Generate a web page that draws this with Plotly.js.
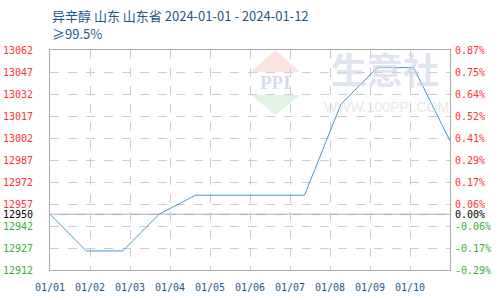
<!DOCTYPE html>
<html><head><meta charset="utf-8">
<script src="https://cdn.plot.ly/plotly-3.0.1.min.js"></script>
<style>html,body{margin:0;padding:0;background:#fff}#c{width:500px;height:300px}</style>
</head><body><div id="c"></div>
<script>
// Data
const dates = ["01/01","01/02","01/03","01/04","01/05","01/06","01/07","01/08","01/09","01/10","01/11","01/12"];
const prices = [12950, 12925, 12925, 12950, 12963, 12963, 12963, 12963, 13025, 13050, 13050, 13000];
const xTickLabels = ["01/01","01/02","01/03","01/04","01/05","01/06","01/07","01/08","01/09","01/10"];
const basePrice = 12950;
const leftTicks = [13062, 13047, 13032, 13017, 13002, 12987, 12972, 12957, 12950, 12942, 12927, 12912];
const rightTickLabels = ["0.87%","0.75%","0.64%","0.52%","0.41%","0.29%","0.17%","0.06%","0.00%","-0.06%","-0.17%","-0.29%"];
const titleLine1 = "异辛醇 山东 山东省 2024-01-01 - 2024-01-12";
const titleLine2 = "≥99.5%";

const RED = "#ff3333", GREEN = "#33b233", BLACK = "#000000";
function col(v){ return v > basePrice ? RED : (v < basePrice ? GREEN : BLACK); }
const leftText = leftTicks.map(v => `<span style="color:${col(v)}">${v}</span>`);
const rightText = leftTicks.map((v,i) => `<span style="color:${col(v)}">${rightTickLabels[i]}</span>`);

const idx = dates.map((d,i) => i);
const n = dates.length;
const xTickVals = xTickLabels.map((d,k) => k * (n - 1) / xTickLabels.length);

const tickFont = {family: "DejaVu Sans Mono, monospace", size: 10, color: "#000"};
const yRange = [Math.min(...leftTicks), Math.max(...leftTicks)];

const traces = [
  {x: idx, y: prices, type: "scatter", mode: "lines", line: {color: "#3a9ad9", width: 1}, hoverinfo: "skip", xaxis: "x", yaxis: "y"},
  {x: idx, y: prices, type: "scatter", mode: "lines", line: {color: "rgba(0,0,0,0)", width: 0}, hoverinfo: "skip", xaxis: "x", yaxis: "y2", showlegend: false}
];

const titleFont = {family: "Noto Sans CJK SC, sans-serif", size: 13, color: "#1a5b8c"};

const layout = {
  width: 500, height: 300,
  margin: {l: 50, r: 50, t: 50, b: 30, pad: 0},
  paper_bgcolor: "#fff", plot_bgcolor: "#fff",
  showlegend: false,
  xaxis: {range: [0, n - 1], tickmode: "array", tickvals: xTickVals, ticktext: xTickLabels,
          showgrid: true, gridcolor: "#cccccc", griddash: "dash", gridwidth: 1,
          zeroline: false, showline: true, linecolor: "#aaaaaa", linewidth: 1, mirror: true,
          ticks: "", ticklabelstandoff: 8, tickfont: {family: tickFont.family, size: 10, color: "#1a5b8c"}, fixedrange: true},
  yaxis: {range: yRange, tickmode: "array", tickvals: leftTicks, ticktext: leftText,
          showgrid: true, gridcolor: "#cccccc", griddash: "dash", gridwidth: 1,
          zeroline: false, showline: true, linecolor: "#aaaaaa", linewidth: 1, mirror: true,
          ticks: "", ticklabelstandoff: 14, tickfont: tickFont, fixedrange: true},
  yaxis2: {range: yRange, overlaying: "y", side: "right", tickmode: "array", tickvals: leftTicks, ticktext: rightText,
           showgrid: false, zeroline: false, showline: false, ticks: "", ticklabelstandoff: 4, tickfont: tickFont, fixedrange: true},
  shapes: [
    {type: "line", xref: "paper", x0: 0, x1: 1, yref: "y", y0: basePrice, y1: basePrice, line: {color: "#999999", width: 1}, layer: "below"},
    // watermark logo: red top triangle, green bottom triangle
    {type: "path", xref: "paper", yref: "paper", path: "M 0.5025 0.901 L 0.5638 1.0 L 0.625 0.901 Z", fillcolor: "rgba(250,205,200,0.55)", line: {width: 0}, layer: "below"},
    {type: "path", xref: "paper", yref: "paper", path: "M 0.5025 0.795 L 0.5638 0.705 L 0.625 0.795 Z", fillcolor: "rgba(200,235,205,0.55)", line: {width: 0}, layer: "below"}
  ],
  annotations: [
    {xref: "paper", yref: "paper", x: 0, y: 1.159, text: titleLine1, showarrow: false, xanchor: "left", yanchor: "middle", font: titleFont},
    {xref: "paper", yref: "paper", x: 0, y: 1.077, text: titleLine2, showarrow: false, xanchor: "left", yanchor: "middle", font: titleFont},
    {xref: "paper", yref: "paper", x: 0.8375, y: 0.92, text: "<b>生意社</b>", showarrow: false, xanchor: "center", yanchor: "middle",
     font: {family: "Noto Sans CJK SC, sans-serif", size: 36, color: "rgba(205,212,228,0.65)"}},
    {xref: "paper", yref: "paper", x: 0.84, y: 0.74, text: "WWW.100PPI.COM", showarrow: false, xanchor: "center", yanchor: "middle",
     font: {family: "Liberation Sans, sans-serif", size: 14, color: "rgba(215,215,215,0.6)"}},
    {xref: "paper", yref: "paper", x: 0.5638, y: 0.852, text: "<b>PPI</b>", showarrow: false, xanchor: "center", yanchor: "middle",
     font: {family: "Liberation Serif, serif", size: 19, color: "rgba(190,200,230,0.65)"}}
  ]
};

Plotly.newPlot("c", traces, layout, {staticPlot: true, displayModeBar: false});
</script></body></html>
